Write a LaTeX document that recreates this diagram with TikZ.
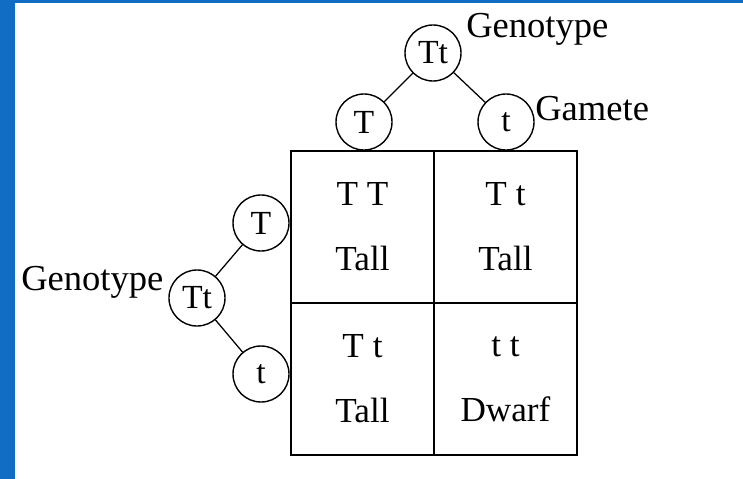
\documentclass[tikz,border=0pt]{standalone}
\usepackage{fontspec}
\setmainfont{Liberation Serif}
\usetikzlibrary{positioning}
\definecolor{frameblue}{RGB}{17,109,196}

\begin{document}
\begin{tikzpicture}[x=0.025cm, y=-0.025cm,
    allele/.style={circle, draw, line width=1pt, minimum size=1.4cm, inner sep=0pt, font=\fontsize{24}{28}\selectfont},
    cell/.style={rectangle, draw, line width=1.2pt, minimum width=3.575cm, minimum height=3.8cm, inner sep=0pt, align=center, font=\fontsize{25}{30}\selectfont},
    caption/.style={anchor=base west, inner sep=0pt, font=\fontsize{26}{30}\selectfont}]
        \useasboundingbox (0,0) rectangle (743,479);
        \fill[white] (0,0) rectangle (743,479);
        \fill[frameblue] (0,0) rectangle (15,479);
        \fill[frameblue] (0,0) rectangle (743,3);

        \node[allele] (tTt) at (433,53) {Tt};
        \node[allele] (tT) at (364,122) {T};
        \node[allele] (tt) at (506,122) {t};
        \node[allele] (lTt) at (197,298) {Tt};
        \node[allele] (lT) at (261,223) {T};
        \node[allele] (lt) at (261,374) {t};

        \node[caption] (geno1) at (466,38) {Genotype};
        \node[caption] (gam) at (535,120) {Gamete};
        \node[caption] (geno2) at (21,290) {Genotype};

        \node[cell] (c11) at (362.5,227) {T T\\[16pt]Tall};
        \node[cell] (c12) at (505.5,227) {T t\\[16pt]Tall};
        \node[cell] (c21) at (362.5,379) {T t\\[16pt]Tall};
        \node[cell] (c22) at (505.5,379) {t t\\[16pt]Dwarf};

        \draw[line width=0.9pt] (tTt) -- (tT);
        \draw[line width=0.9pt] (tTt) -- (tt);
        \draw[line width=0.9pt] (lTt) -- (lT);
        \draw[line width=0.9pt] (lTt) -- (lt);
    \end{tikzpicture}
\end{document}
